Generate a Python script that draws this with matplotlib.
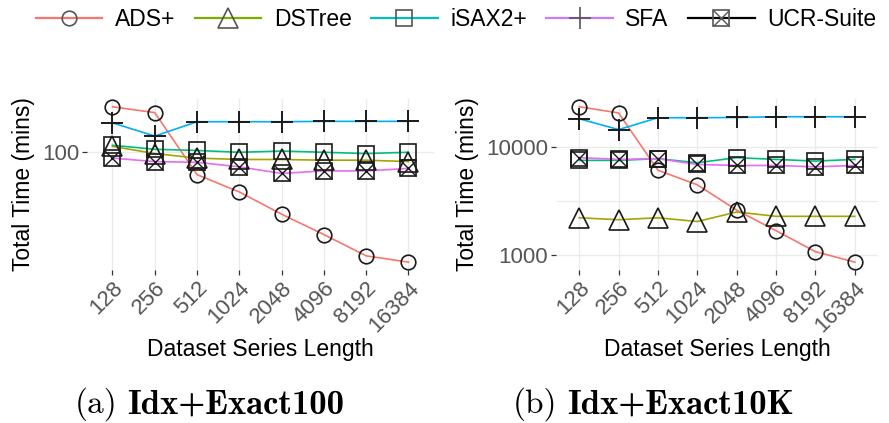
import numpy as np
import matplotlib
matplotlib.use("Agg")
import matplotlib.pyplot as plt
import matplotlib.transforms as mtrans
from matplotlib.lines import Line2D

plt.rcParams['font.family'] = ['Liberation Sans', 'DejaVu Sans']

lengths = ['128', '256', '512', '1024', '2048', '4096', '8192', '16384']
methods = ['ADS+', 'DSTree', 'iSAX2+', 'SFA', 'UCR-Suite']

# (a) Idx+Exact100, minutes
exact100 = {
    'ADS+':      [209, 190, 69.6, 52.6, 36.7, 26.4, 18.7, 16.9],
    'DSTree':    [110, 98, 91, 89, 89, 88, 88, 86],
    'iSAX2+':    [112, 105, 103, 100, 102, 100, 98, 100],
    'SFA':       [161, 130, 164, 164, 164, 165, 165, 165],
    'UCR-Suite': [91, 86, 85, 79, 71, 74, 74, 77],
}
# (b) Idx+Exact10K, minutes
exact10k = {
    'ADS+':      [23500, 20600, 6080, 4460, 2600, 1680, 1075, 860],
    'DSTree':    [2210, 2120, 2210, 2040, 2500, 2280, 2280, 2280],
    'iSAX2+':    [7500, 7500, 7780, 7130, 7950, 7660, 7390, 7660],
    'SFA':       [18200, 14450, 18600, 18600, 18700, 19000, 19000, 19000],
    'UCR-Suite': [7950, 7660, 7780, 6880, 6730, 6730, 6540, 6730],
}

line_cols = {'ADS+': '#F8766D', 'DSTree': '#A3A500', 'iSAX2+': '#00BF7D',
             'SFA': '#00B0F6', 'UCR-Suite': '#E76BF3'}
legend_cols = {'ADS+': '#F8766D', 'DSTree': '#7CAE00', 'iSAX2+': '#00BFC4',
               'SFA': '#C77CFF', 'UCR-Suite': '#000000'}
shapes = {'ADS+': ('o', 10.5), 'DSTree': ('^', 15), 'iSAX2+': ('s', 11),
          'SFA': ('+', 16), 'UCR-Suite': ('s', 11)}

fig = plt.figure(figsize=(8.89, 4.23), dpi=100)
ax1 = fig.add_axes([0.098, 0.362, 0.390, 0.404])
ax2 = fig.add_axes([0.625, 0.362, 0.363, 0.404])
shift = mtrans.ScaledTranslation(0.08, 0, fig.dpi_scale_trans)


def draw(ax, data, yticks, minor, yl):
    x = np.arange(len(lengths))
    for m in methods:
        ax.plot(x, data[m], color=line_cols[m], lw=1.2, zorder=2)
    for m in methods:
        mk, ms = shapes[m]
        ax.plot(x, data[m], ls='none', marker=mk, ms=ms, mfc='none',
                mec='#1a1a1a', mew=1.4 if mk == '+' else 1.2, zorder=3)
        if m == 'UCR-Suite':
            ax.plot(x, data[m], ls='none', marker='x', ms=ms, mec='#1a1a1a',
                    mew=1.0, zorder=3)
    allv = np.log10(np.concatenate([data[m] for m in methods]))
    lo, hi = allv.min(), allv.max()
    pad = 0.05 * (hi - lo)
    ax.set_yscale('log')
    ax.set_ylim(10 ** (lo - pad), 10 ** (hi + pad))
    ax.set_xlim(-0.6, len(lengths) - 0.4)
    ax.set_xticks(x)
    ax.set_xticklabels(lengths, rotation=45, ha='right', rotation_mode='anchor',
                       fontsize=16, color='#555555')
    for lab in ax.get_xticklabels():
        lab.set_transform(lab.get_transform() + shift)
    ax.set_yticks(yticks)
    ax.set_yticklabels([str(t) for t in yticks], fontsize=16, color='#555555')
    ax.yaxis.set_minor_locator(matplotlib.ticker.NullLocator())
    ax.grid(True, axis='both', color='#EBEBEB', lw=1.0, zorder=0)
    for t in minor:
        ax.axhline(t, color='#EBEBEB', lw=0.8, zorder=0)
    ax.tick_params(axis='both', length=3.5, width=0.9, color='#333333', pad=2)
    for s in ax.spines.values():
        s.set_visible(False)
    ax.set_axisbelow(True)
    ax.set_ylabel('Total Time (mins)', fontsize=16.5, va='center')
    ax.set_xlabel('Dataset Series Length', fontsize=16.5, va='center')
    ax.yaxis.set_label_coords(yl, 0.5)
    ax.xaxis.set_label_coords(0.5, -0.468)


draw(ax1, exact100, [100], [], -0.184)
draw(ax2, exact10k, [1000, 10000], [10 ** 3.5], -0.272)

# captions: regular "(a)" + bold title, Computer Modern
cap_y = 10 / 423
fig.text(117 / 889, cap_y, '(a)', family='cmr10', fontsize=24, ha='right')
fig.text(127 / 889, cap_y, 'Idx+Exact100', family='cmb10', fontsize=25, ha='left')
fig.text(557 / 889, cap_y, '(b)', family='cmr10', fontsize=24, ha='right')
fig.text(567 / 889, cap_y, 'Idx+Exact10K', family='cmb10', fontsize=25, ha='left')

handles = []
for m in methods:
    mk, ms = shapes[m]
    ln = Line2D([], [], color=legend_cols[m], lw=1.6, marker=mk, ms=ms,
                mfc='none', mec='#555555', mew=1.2)
    if m == 'UCR-Suite':
        xm = Line2D([], [], ls='none', marker='x', ms=ms, mec='#555555',
                    mew=1.0)
        handles.append((ln, xm))
    else:
        handles.append(ln)

fig.legend(handles, methods, loc='center', bbox_to_anchor=(0.513, 0.955), ncol=5,
           frameon=False, fontsize=16.5, handlelength=2.9, handletextpad=0.55,
           columnspacing=0.85, borderaxespad=0)

fig.savefig('out.png', dpi=100)
